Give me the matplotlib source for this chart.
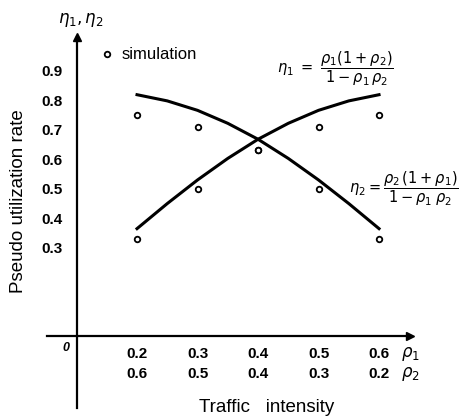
import matplotlib.pyplot as plt

# Data.
rho1 = [0.2, 0.25, 0.3, 0.35, 0.4, 0.45, 0.5, 0.55, 0.6]
eta1_curve = [0.364, 0.449, 0.529, 0.602, 0.667, 0.721, 0.765, 0.797, 0.818]
eta2_curve = [0.818, 0.797, 0.765, 0.721, 0.667, 0.602, 0.529, 0.449, 0.364]

sim_x = [0.2, 0.3, 0.4, 0.5, 0.6]
sim_eta1 = [0.33, 0.50, 0.63, 0.71, 0.75]
sim_eta2 = [0.75, 0.71, 0.63, 0.50, 0.33]

x_ticks = [0.2, 0.3, 0.4, 0.5, 0.6]
rho1_labels = ["0.2", "0.3", "0.4", "0.5", "0.6"]
rho2_labels = ["0.6", "0.5", "0.4", "0.3", "0.2"]
y_ticks = [0.3, 0.4, 0.5, 0.6, 0.7, 0.8, 0.9]

plt.rcParams['font.family'] = ['Liberation Sans', 'DejaVu Sans']
plt.rcParams['mathtext.fontset'] = 'dejavusans'

W, H = 467, 419
fig = plt.figure(figsize=(W / 100, H / 100), dpi=100)
# axes box in pixels: x 47..410, y 37..408 (from top)
ax = fig.add_axes([47 / W, (H - 408) / H, (410 - 47) / W, (408 - 37) / H])
ax.set_xlim(0.0512, 0.6512)
ax.set_ylim(-0.244, 1.0136)

for s in ['top', 'right']:
    ax.spines[s].set_visible(False)
ax.spines['left'].set_position(('data', 0.1))
ax.spines['bottom'].set_position(('data', 0))
ax.spines['left'].set_linewidth(1.6)
ax.spines['bottom'].set_linewidth(1.6)
ax.plot(1, 0, '>k', ms=6, transform=ax.get_yaxis_transform(), clip_on=False)
ax.plot(0.1, 1, '^k', ms=6, transform=ax.get_xaxis_transform(), clip_on=False)

ax.set_xticks(x_ticks)
ax.set_xticklabels([])
ax.set_yticks(y_ticks)
ax.set_yticklabels(["%.1f" % v for v in y_ticks], fontsize=11, fontweight='bold')
ax.tick_params(axis='both', length=0, pad=10)

for x, a, b in zip(x_ticks, rho1_labels, rho2_labels):
    ax.text(x, -0.062, a, ha='center', va='center', fontsize=11, fontweight='bold')
    ax.text(x, -0.13, b, ha='center', va='center', fontsize=11, fontweight='bold')
ax.text(0.636, -0.062, r'$\rho_1$', ha='left', va='center', fontsize=12)
ax.text(0.636, -0.13, r'$\rho_2$', ha='left', va='center', fontsize=12)
ax.text(0.082, -0.04, '0', ha='center', va='center', fontsize=9,
        fontweight='bold', style='italic')

# curves and simulation points
ax.plot(rho1, eta1_curve, color='black', lw=2.2)
ax.plot(rho1, eta2_curve, color='black', lw=2.2)
ax.plot(sim_x, sim_eta1, 'o', mfc='white', mec='black', ms=4, mew=1.3)
ax.plot(sim_x, sim_eta2, 'o', mfc='white', mec='black', ms=4, mew=1.3)

# legend
ax.plot(0.15, 0.955, 'o', mfc='white', mec='black', ms=4, mew=1.3, clip_on=False)
ax.text(0.175, 0.955, 'simulation', ha='left', va='center', fontsize=12)

# formulas
ax.text(0.432, 0.905, r'$\eta_1\ =\ \dfrac{\rho_1(1+\rho_2)}{1-\rho_1\,\rho_2}$',
        ha='left', va='center', fontsize=10.5)
ax.text(0.55, 0.50, r'$\eta_2 = \dfrac{\rho_2\,(1+\rho_1)}{1-\rho_1\;\rho_2}$',
        ha='left', va='center', fontsize=10.5)

# axis titles
fig.text(19 / W, 1 - 201 / H, 'Pseudo utilization rate', rotation=90,
         ha='center', va='center', fontsize=13.5)
fig.text(267 / W, 1 - 407 / H, 'Traffic   intensity', ha='center',
         va='center', fontsize=13.5)
fig.text(81 / W, 1 - 20 / H, r'$\eta_1,\eta_2$', ha='center', va='center',
         fontsize=12)

fig.savefig('out.png', dpi=100)
